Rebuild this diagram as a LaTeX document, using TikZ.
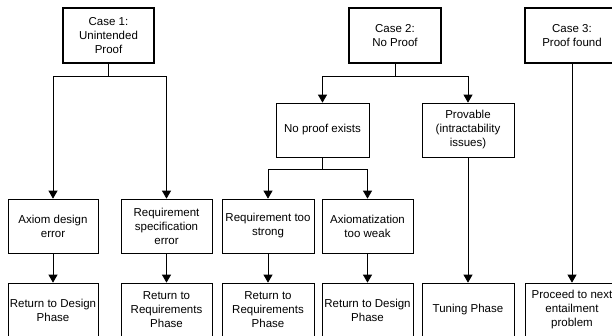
\documentclass[tikz,border=0pt]{standalone}
\usepackage{fontspec}
\setmainfont{Liberation Sans}
\usetikzlibrary{arrows.meta}
\begin{document}
\begin{tikzpicture}[x=1pt,y=-1pt,
  box/.style={draw, line width=0.7pt, rectangle, minimum height=54pt, align=center, inner sep=1pt, font=\fontsize{11.5}{14}\selectfont},
  casebox/.style={box, line width=2pt, minimum height=55pt},
  conn/.style={line width=0.8pt},
  arr/.style={conn, -{Triangle[length=8pt,width=9pt]}}]
\useasboundingbox (0,0) rectangle (612,335);
% top cases
\node[casebox, minimum width=91pt] (c1) at (108.5,35.5) {Case 1:\\Unintended\\Proof};
\node[casebox, minimum width=92pt] (c2) at (395,35.5) {Case 2:\\No Proof};
\node[casebox, minimum width=94pt] (c3) at (572,35.5) {Case 3:\\Proof found};
% middle
\node[box, minimum width=93pt] (np) at (322.5,130) {No proof exists};
\node[box, minimum width=92pt] (pv) at (468,130) {Provable\\(intractability\\issues)};
% row 2
\node[box, minimum width=90pt] (ax) at (53,226) {Axiom design\\error};
\node[box, minimum width=91pt] (rs) at (166.5,226) {Requirement\\specification\\error};
\node[box, minimum width=92pt] (rt) at (268,226) {Requirement too\\strong};
\node[box, minimum width=91pt] (aw) at (367.5,226) {Axiomatization\\too weak};
% row 3
\node[box, minimum width=90pt] (b1) at (53,310) {Return to Design\\Phase};
\node[box, minimum width=91pt] (b2) at (166.5,310) {Return to\\Requirements\\Phase};
\node[box, minimum width=92pt] (b3) at (268,310) {Return to\\Requirements\\Phase};
\node[box, minimum width=91pt] (b4) at (367.5,310) {Return to Design\\Phase};
\node[box, minimum width=92pt] (b5) at (468,310) {Tuning Phase};
\node[box, minimum width=94pt] (b6) at (572,310) {Proceed to next\\entailment\\problem};
% junctions
\coordinate (j1) at (108.5,76);
\coordinate (j2) at (395,76);
\coordinate (j3) at (322.5,169);
\draw[conn] (c1.south) -- (j1);
\draw[arr] (j1) -| (ax.north);
\draw[arr] (j1) -| (rs.north);
\draw[conn] (c2.south) -- (j2);
\draw[arr] (j2) -| (np.north);
\draw[arr] (j2) -| (pv.north);
\draw[conn] (np.south) -- (j3);
\draw[arr] (j3) -| (rt.north);
\draw[arr] (j3) -| (aw.north);
\draw[arr] (pv.south) -- (b5.north);
\draw[arr] (c3.south) -- (b6.north);
\draw[arr] (ax.south) -- (b1.north);
\draw[arr] (rs.south) -- (b2.north);
\draw[arr] (rt.south) -- (b3.north);
\draw[arr] (aw.south) -- (b4.north);
\end{tikzpicture}
\end{document}
